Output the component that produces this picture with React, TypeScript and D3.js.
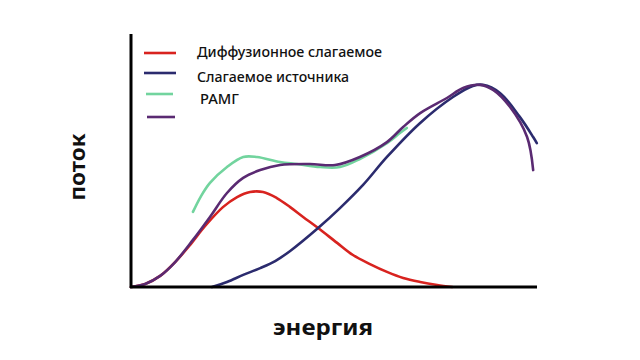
import React from "react";
import * as d3 from "d3";

// energy (x) and flux (y) in arbitrary units 0..100
const diffX = [0, 3.5, 7.2, 10.9, 14.6, 18.3, 22.7, 26.2, 29.4, 32.6, 36.0, 39.3, 42.5, 46.2, 50.9, 54.8, 59.0, 63.2, 67.2, 71.4, 75.6, 79.3];
const diffY = [0, 1.2, 4.4, 9.9, 16.7, 24.2, 31.7, 35.7, 37.7, 37.7, 35.3, 31.7, 27.8, 23.4, 17.5, 12.7, 9.1, 6.0, 3.6, 2.0, 0.8, 0];

const srcX = [20.0, 23.7, 27.7, 31.9, 35.6, 39.3, 46.2, 51.6, 57.3, 63.2, 71.4, 79.5, 84.4, 86.9, 91.1, 96.0, 99.3, 100.2];
const srcY = [0, 2.0, 4.8, 7.5, 10.3, 14.3, 23.4, 31.3, 40.5, 51.6, 65.1, 75.4, 79.8, 80.2, 77.0, 67.5, 59.5, 57.1];

const pamgX = [15.3, 17.2, 19.5, 23.7, 27.7, 31.1, 36.8, 41.0, 46.7, 51.6, 56.5, 63.2, 66.4, 68.1];
const pamgY = [29.8, 35.8, 41.3, 47.6, 51.6, 51.6, 49.6, 48.8, 47.6, 47.6, 50.8, 57.1, 61.1, 63.1];

const sumX = [0, 3.5, 7.2, 10.9, 15.3, 19.5, 23.7, 27.7, 31.9, 36.8, 44.2, 50.4, 56.5, 63.2, 67.2, 71.4, 78.0, 82.0, 86.2, 89.4, 93.6, 97.8, 99.3];
const sumY = [0, 1.2, 4.4, 9.9, 18.7, 27.8, 37.3, 43.3, 46.4, 48.4, 48.8, 48.4, 51.6, 57.5, 63.5, 69.0, 75.0, 79.0, 80.2, 78.2, 71.4, 59.5, 46.4];

const legendLabels = ["Диффузионное слагаемое", "Слагаемое источника", "РАМГ", ""];
const xLabel = "энергия";
const yLabel = "поток";

const W = 640, H = 360;
const x = d3.scaleLinear().domain([0, 100]).range([131, 536]);
const y = d3.scaleLinear().domain([0, 100]).range([287, 35]);

const series = [
  { xs: diffX, ys: diffY, color: "#d8231f" },
  { xs: srcX, ys: srcY, color: "#2b2b6e" },
  { xs: pamgX, ys: pamgY, color: "#72d49e" },
  { xs: sumX, ys: sumY, color: "#5a2a72" },
];

const line = d3
  .line<[number, number]>()
  .x((d) => x(d[0]))
  .y((d) => y(d[1]))
  .curve(d3.curveCatmullRom.alpha(0.5));

const legendItems = [
  { color: series[0].color, ly: 53, tx: 197, ty: 57, len: 185, x1: 144, x2: 176 },
  { color: series[1].color, ly: 73, tx: 197, ty: 82, len: 152, x1: 144, x2: 176 },
  { color: series[2].color, ly: 94, tx: 200, ty: 104, len: 39, x1: 146, x2: 173 },
  { color: series[3].color, ly: 117, tx: 200, ty: 121, len: 0, x1: 147, x2: 175 },
];

export default function App() {
  const order = [2, 0, 1, 3];
  return (
    <svg
      width={W}
      height={H}
      style={{ position: "absolute", left: 0, top: 0, background: "#fff" }}
      fontFamily="'Noto Sans', sans-serif"
    >
      <rect width={W} height={H} fill="#fff" />
      {order.map((i) => {
        const s = series[i];
        const pts = s.xs.map((v, k) => [v, s.ys[k]] as [number, number]);
        return (
          <path key={i} d={line(pts) || ""} fill="none" stroke={s.color} strokeWidth={2.6} strokeLinecap="round" />
        );
      })}
      <line x1={131} y1={34} x2={131} y2={288} stroke="#000" strokeWidth={3} />
      <line x1={130} y1={287} x2={537} y2={287} stroke="#000" strokeWidth={3} />
      {legendItems.map((it, i) => (
        <g key={i}>
          <line x1={it.x1} x2={it.x2} y1={it.ly} y2={it.ly} stroke={it.color} strokeWidth={2.6} />
          {legendLabels[i] && (
            <text
              x={it.tx}
              y={it.ty}
              fontSize={13.5}
              fontWeight={500}
              fill="#111"
              textLength={it.len}
              lengthAdjust="spacingAndGlyphs"
            >
              {legendLabels[i]}
            </text>
          )}
        </g>
      ))}
      <text
        x={323}
        y={335}
        fontSize={21}
        fontWeight={700}
        textAnchor="middle"
        fill="#111"
        textLength={100}
        lengthAdjust="spacingAndGlyphs"
      >
        {xLabel}
      </text>
      <text
        transform="translate(85,167) rotate(-90)"
        fontSize={22}
        fontWeight={700}
        textAnchor="middle"
        fill="#111"
        textLength={67}
        lengthAdjust="spacingAndGlyphs"
      >
        {yLabel}
      </text>
    </svg>
  );
}
